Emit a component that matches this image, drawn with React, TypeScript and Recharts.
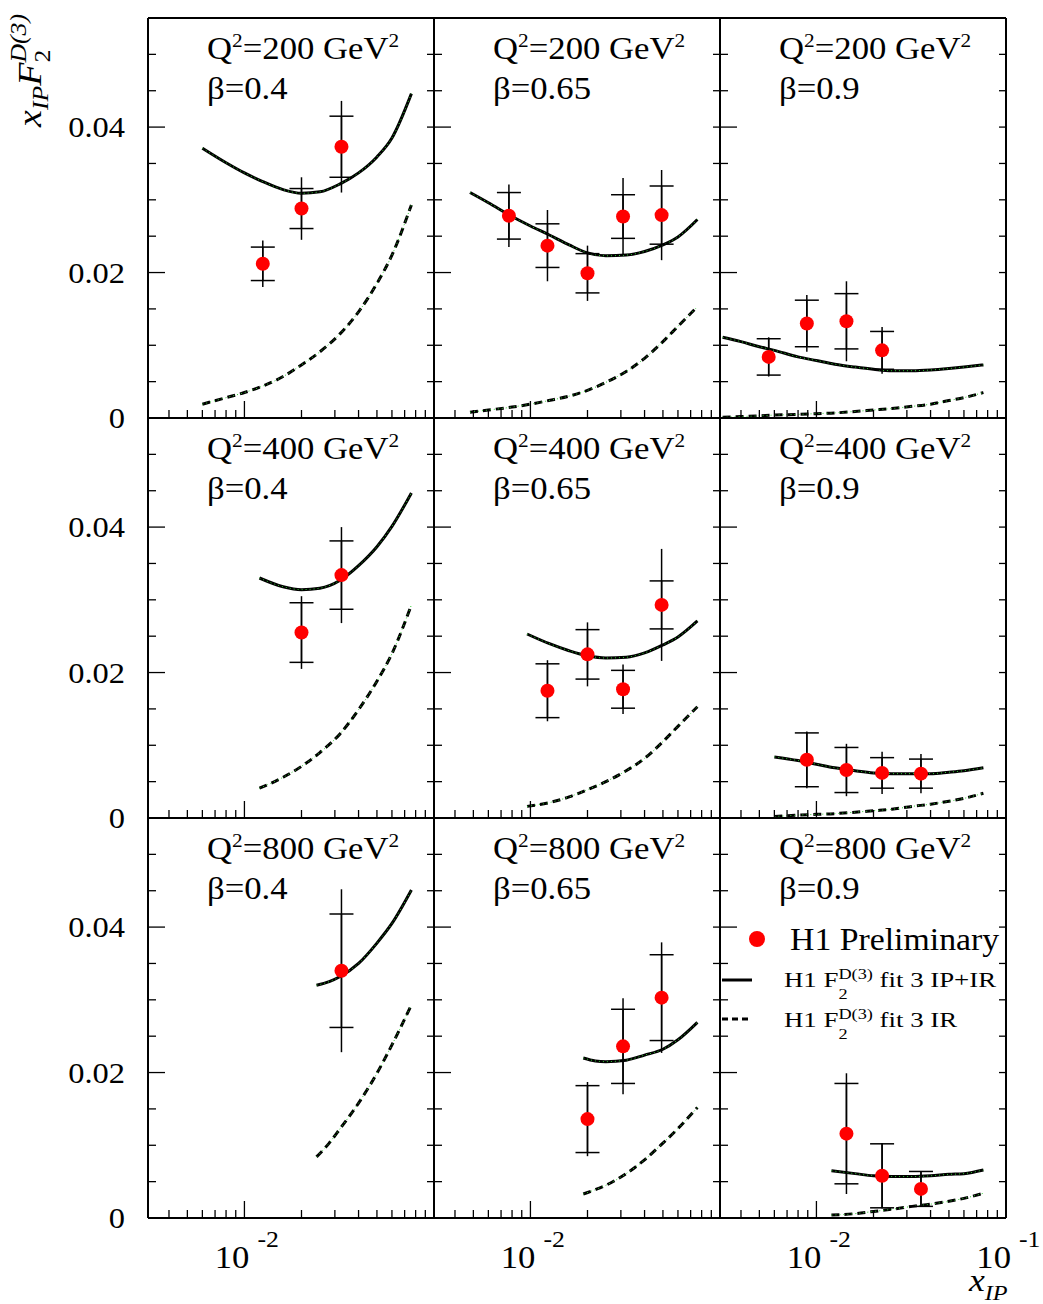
import React from "react";
import { ComposedChart, Line, Scatter, ErrorBar, XAxis, YAxis } from "recharts";

const FONT = '"Liberation Serif", "Times New Roman", serif';
const SX = 1.12; // glyphs in the original are a little wider than Times

const PANEL_W = 286;
const PANEL_H = 400;
const LEFT0 = 148;
const TOP0 = 18;
const ML = 140;
const MR = 50;
const MT = 10;
const MB = 90;
const AX = 1; // thickness given to each axis band

const X_DOMAIN = [0.0031, 0.1];
const Y_DOMAIN = [0, 0.055];
const X_TICKS = [0.004, 0.005, 0.006, 0.007, 0.008, 0.009, 0.01, 0.02, 0.03, 0.04, 0.05, 0.06, 0.07, 0.08, 0.09, 0.1];
const Y_TICKS = [0, 0.005, 0.01, 0.015, 0.02, 0.025, 0.03, 0.035, 0.04, 0.045, 0.05];

const Q2_VALUES = ["200", "400", "800"];
const BETA_VALUES = ["0.4", "0.65", "0.9"];

// Q2=200, beta=0.4
const q200b04X = [0.0125, 0.02, 0.0325];
const q200b04Y = [0.0212, 0.0288, 0.0373];
const q200b04Stat = [0.0023, 0.00275, 0.0042];
const q200b04Tot = [0.0032, 0.0043, 0.0063];
const q200b04FitX = [0.006, 0.008, 0.01, 0.0125, 0.016, 0.02, 0.025, 0.032, 0.04, 0.05, 0.06, 0.076];
const q200b04Fit = [0.0371, 0.0351, 0.0337, 0.0325, 0.0314, 0.0309, 0.0311, 0.0322, 0.0337, 0.0359, 0.0385, 0.0446];
const q200b04IR = [0.0019, 0.0028, 0.0035, 0.0044, 0.0057, 0.0073, 0.0091, 0.0116, 0.0146, 0.0185, 0.0224, 0.0293];

// Q2=200, beta=0.65
const q200b065X = [0.0077, 0.0123, 0.02, 0.0308, 0.0492];
const q200b065Y = [0.0278, 0.0237, 0.0199, 0.0277, 0.0279];
const q200b065Stat = [0.0032, 0.003, 0.0027, 0.003, 0.004];
const q200b065Tot = [0.0043, 0.0049, 0.0038, 0.0053, 0.0062];
const q200b065FitX = [0.0048, 0.006, 0.008, 0.01, 0.0125, 0.016, 0.02, 0.025, 0.032, 0.04, 0.05, 0.06, 0.076];
const q200b065Fit = [0.031, 0.0296, 0.0277, 0.0264, 0.0252, 0.0238, 0.0227, 0.0223, 0.0224, 0.0229, 0.0238, 0.0249, 0.0273];
const q200b065IR = [0.0008, 0.0011, 0.0015, 0.0019, 0.0024, 0.003, 0.0038, 0.0049, 0.0064, 0.0082, 0.0105, 0.0126, 0.0153];

// Q2=200, beta=0.9
const q200b09X = [0.0056, 0.0089, 0.0144, 0.0222];
const q200b09Y = [0.0084, 0.013, 0.0133, 0.0093];
const q200b09Stat = [0.0025, 0.0032, 0.0038, 0.0026];
const q200b09Tot = [0.0027, 0.0039, 0.0055, 0.0032];
const q200b09FitX = [0.0032, 0.004, 0.005, 0.006, 0.008, 0.01, 0.0125, 0.016, 0.02, 0.025, 0.032, 0.04, 0.05, 0.06, 0.076];
const q200b09Fit = [0.0111, 0.0105, 0.0098, 0.0093, 0.0084, 0.0079, 0.0074, 0.007, 0.0067, 0.0065, 0.0065, 0.0066, 0.0068, 0.007, 0.0073];
const q200b09IR = [0.0001, 0.0002, 0.0003, 0.0004, 0.0005, 0.0006, 0.0007, 0.0009, 0.0011, 0.0013, 0.0016, 0.0019, 0.0024, 0.0028, 0.0035];

// Q2=400, beta=0.4
const q400b04X = [0.02, 0.0325];
const q400b04Y = [0.0255, 0.0334];
const q400b04Stat = [0.0041, 0.0047];
const q400b04Tot = [0.005, 0.0066];
const q400b04FitX = [0.012, 0.016, 0.02, 0.025, 0.032, 0.04, 0.05, 0.06, 0.076];
const q400b04Fit = [0.033, 0.0318, 0.0314, 0.0316, 0.0327, 0.0347, 0.0373, 0.0401, 0.0447];
const q400b04IR = [0.0041, 0.0056, 0.0071, 0.009, 0.0116, 0.0149, 0.0188, 0.0226, 0.0293];

// Q2=400, beta=0.65
const q400b065X = [0.0123, 0.02, 0.0308, 0.0492];
const q400b065Y = [0.0175, 0.0225, 0.0177, 0.0293];
const q400b065Stat = [0.0037, 0.0034, 0.0026, 0.0033];
const q400b065Tot = [0.0042, 0.0044, 0.0034, 0.0077];
const q400b065FitX = [0.0096, 0.0125, 0.016, 0.02, 0.025, 0.032, 0.04, 0.05, 0.06, 0.076];
const q400b065Fit = [0.0253, 0.024, 0.023, 0.0223, 0.022, 0.0221, 0.0227, 0.0238, 0.0249, 0.0271];
const q400b065IR = [0.0016, 0.0021, 0.0029, 0.0039, 0.005, 0.0065, 0.0082, 0.0105, 0.0126, 0.0153];

// Q2=400, beta=0.9
const q400b09X = [0.0089, 0.0144, 0.0222, 0.0356];
const q400b09Y = [0.008, 0.0066, 0.0062, 0.0061];
const q400b09Stat = [0.0037, 0.0031, 0.0021, 0.002];
const q400b09Tot = [0.0039, 0.0036, 0.0029, 0.0027];
const q400b09FitX = [0.006, 0.008, 0.01, 0.0125, 0.016, 0.02, 0.025, 0.032, 0.04, 0.05, 0.06, 0.076];
const q400b09Fit = [0.0084, 0.0079, 0.0074, 0.0069, 0.0065, 0.0062, 0.0061, 0.0061, 0.0061, 0.0063, 0.0065, 0.0069];
const q400b09IR = [0.0002, 0.0004, 0.0005, 0.0006, 0.0008, 0.001, 0.0012, 0.0016, 0.0019, 0.0023, 0.0027, 0.0034];

// Q2=800, beta=0.4
const q800b04X = [0.0325];
const q800b04Y = [0.034];
const q800b04Stat = [0.0078];
const q800b04Tot = [0.0112];
const q800b04FitX = [0.024, 0.028, 0.032, 0.04, 0.05, 0.06, 0.076];
const q800b04Fit = [0.032, 0.0325, 0.0332, 0.035, 0.0378, 0.0405, 0.0451];
const q800b04IR = [0.0084, 0.0103, 0.0123, 0.0158, 0.0199, 0.0238, 0.0293];

// Q2=800, beta=0.65
const q800b065X = [0.02, 0.0308, 0.0492];
const q800b065Y = [0.0136, 0.0236, 0.0303];
const q800b065Stat = [0.0046, 0.0051, 0.0059];
const q800b065Tot = [0.0051, 0.0066, 0.0076];
const q800b065FitX = [0.019, 0.022, 0.025, 0.032, 0.04, 0.05, 0.06, 0.076];
const q800b065Fit = [0.022, 0.0216, 0.0215, 0.0217, 0.0224, 0.0232, 0.0245, 0.0269];
const q800b065IR = [0.0033, 0.0039, 0.0045, 0.0061, 0.008, 0.0103, 0.0123, 0.0152];

// Q2=800, beta=0.9
const q800b09X = [0.0144, 0.0222, 0.0356];
const q800b09Y = [0.0116, 0.0058, 0.004];
const q800b09Stat = [0.0069, 0.0044, 0.0024];
const q800b09Tot = [0.0083, 0.0045, 0.0024];
const q800b09FitX = [0.012, 0.016, 0.02, 0.025, 0.032, 0.04, 0.05, 0.06, 0.076];
const q800b09Fit = [0.0065, 0.0061, 0.0058, 0.0057, 0.0057, 0.0058, 0.006, 0.0061, 0.0066];
const q800b09IR = [0.0004, 0.0006, 0.0009, 0.0012, 0.0016, 0.0019, 0.0023, 0.0027, 0.0034];

const toPoints = (xs: number[], ys: number[], stat: number[], tot: number[]) =>
  xs.map((x, i) => ({ x, y: ys[i], stat: stat[i], tot: tot[i] }));
const toCurve = (xs: number[], ys: number[]) => xs.map((x, i) => ({ x, y: ys[i] }));

const PANELS = [
  { row: 0, col: 0, points: toPoints(q200b04X, q200b04Y, q200b04Stat, q200b04Tot), fit: toCurve(q200b04FitX, q200b04Fit), ir: toCurve(q200b04FitX, q200b04IR) },
  { row: 0, col: 1, points: toPoints(q200b065X, q200b065Y, q200b065Stat, q200b065Tot), fit: toCurve(q200b065FitX, q200b065Fit), ir: toCurve(q200b065FitX, q200b065IR) },
  { row: 0, col: 2, points: toPoints(q200b09X, q200b09Y, q200b09Stat, q200b09Tot), fit: toCurve(q200b09FitX, q200b09Fit), ir: toCurve(q200b09FitX, q200b09IR) },
  { row: 1, col: 0, points: toPoints(q400b04X, q400b04Y, q400b04Stat, q400b04Tot), fit: toCurve(q400b04FitX, q400b04Fit), ir: toCurve(q400b04FitX, q400b04IR) },
  { row: 1, col: 1, points: toPoints(q400b065X, q400b065Y, q400b065Stat, q400b065Tot), fit: toCurve(q400b065FitX, q400b065Fit), ir: toCurve(q400b065FitX, q400b065IR) },
  { row: 1, col: 2, points: toPoints(q400b09X, q400b09Y, q400b09Stat, q400b09Tot), fit: toCurve(q400b09FitX, q400b09Fit), ir: toCurve(q400b09FitX, q400b09IR) },
  { row: 2, col: 0, points: toPoints(q800b04X, q800b04Y, q800b04Stat, q800b04Tot), fit: toCurve(q800b04FitX, q800b04Fit), ir: toCurve(q800b04FitX, q800b04IR) },
  { row: 2, col: 1, points: toPoints(q800b065X, q800b065Y, q800b065Stat, q800b065Tot), fit: toCurve(q800b065FitX, q800b065Fit), ir: toCurve(q800b065FitX, q800b065IR) },
  { row: 2, col: 2, points: toPoints(q800b09X, q800b09Y, q800b09Stat, q800b09Tot), fit: toCurve(q800b09FitX, q800b09Fit), ir: toCurve(q800b09FitX, q800b09IR) },
];

const frame = { stroke: "#000", strokeWidth: 2 };

const isMajorY = (v: number) => Math.abs(v / 0.02 - Math.round(v / 0.02)) < 1e-6;

const makeYTick = (col: number) => (props: any) => {
  const { x, y, payload } = props;
  const v = payload.value;
  const major = isMajorY(v);
  return (
    <g>
      <line x1={x} x2={x + (major ? 17 : 8)} y1={y} y2={y} stroke="#000" strokeWidth={1.3} />
      {col === 0 && major && (
        <text
          transform={`translate(${x - 23},${y + 10}) scale(${SX},1)`}
          textAnchor="end"
          fontSize={29}
          fontFamily={FONT}
          fill="#000"
        >
          {v === 0 ? "0" : v.toFixed(2)}
        </text>
      )}
    </g>
  );
};

const rightTick = (props: any) => {
  const { x, y } = props;
  return <line x1={x} x2={x - 7} y1={y} y2={y} stroke="#000" strokeWidth={1.3} />;
};

const makeXTick = (row: number, col: number) => (props: any) => {
  const { x, y, payload } = props;
  const v = payload.value;
  const major = v === 0.01 || v === 0.1;
  const showLabel = row === 2 && (v === 0.01 || (v === 0.1 && col === 2));
  return (
    <g>
      <line x1={x} x2={x} y1={y} y2={y - (major ? 17 : 8)} stroke="#000" strokeWidth={1.3} />
      {showLabel && (
        <g fontFamily={FONT} fill="#000">
          <text transform={`translate(${x + 5},${y + 50}) scale(${SX},1)`} textAnchor="end" fontSize={31}>
            10
          </text>
          <text transform={`translate(${x + 13},${y + 29}) scale(${SX},1)`} textAnchor="start" fontSize={23}>
            {v === 0.01 ? "-2" : "-1"}
          </text>
        </g>
      )}
    </g>
  );
};

const redDot = (props: any) => <circle cx={props.cx} cy={props.cy} r={7} fill="#ff0000" />;

const Panel = ({ p }: { p: (typeof PANELS)[number] }) => {
  const left = LEFT0 + p.col * PANEL_W - ML;
  const top = TOP0 + p.row * PANEL_H - MT;
  return (
    <div style={{ position: "absolute", left, top }}>
      <ComposedChart
        width={ML + PANEL_W + MR}
        height={MT + PANEL_H + MB}
        margin={{ top: MT - AX, right: MR - AX, bottom: MB - AX, left: ML - AX }}
      >
        <XAxis
          dataKey="x"
          type="number"
          scale="log"
          domain={X_DOMAIN}
          allowDataOverflow
          ticks={X_TICKS}
          interval={0}
          height={AX}
          tickSize={0}
          tickMargin={0}
          tickLine={false}
          axisLine={frame}
          tick={makeXTick(p.row, p.col)}
        />
        <XAxis
          xAxisId="top"
          orientation="top"
          dataKey="x"
          type="number"
          scale="log"
          domain={X_DOMAIN}
          allowDataOverflow
          ticks={[0.01]}
          height={AX}
          tick={false}
          tickLine={false}
          axisLine={frame}
        />
        <YAxis
          dataKey="y"
          type="number"
          domain={Y_DOMAIN}
          allowDataOverflow
          ticks={Y_TICKS}
          interval={0}
          width={AX}
          tickSize={0}
          tickMargin={0}
          tickLine={false}
          axisLine={frame}
          tick={makeYTick(p.col)}
        />
        <YAxis
          yAxisId="right"
          orientation="right"
          dataKey="y"
          type="number"
          domain={Y_DOMAIN}
          allowDataOverflow
          ticks={Y_TICKS}
          interval={0}
          width={AX}
          tickSize={0}
          tickMargin={0}
          tickLine={false}
          axisLine={frame}
          tick={rightTick}
        />
        <Line data={p.ir} dataKey="y" type="monotone" stroke="#000" strokeWidth={3} strokeDasharray="8 5" dot={false} isAnimationActive={false} />
        <Line data={p.ir} dataKey="y" type="monotone" stroke="#33cc33" strokeWidth={1} strokeDasharray="1 3" dot={false} isAnimationActive={false} />
        <Line data={p.fit} dataKey="y" type="monotone" stroke="#000" strokeWidth={3} dot={false} isAnimationActive={false} />
        <Line data={p.fit} dataKey="y" type="monotone" stroke="#33cc33" strokeWidth={1} strokeDasharray="1 3" dot={false} isAnimationActive={false} />
        <Scatter data={p.points} dataKey="y" shape={redDot} isAnimationActive={false}>
          <ErrorBar dataKey="tot" direction="y" width={0} stroke="#000" strokeWidth={1.5} />
          <ErrorBar dataKey="stat" direction="y" width={12} stroke="#000" strokeWidth={1.5} />
        </Scatter>
      </ComposedChart>
    </div>
  );
};

const Txt = ({ x, y, size, anchor = "start", italic = false, rotate = 0, sx = SX, children }: any) => (
  <text
    transform={`translate(${x},${y})${rotate ? ` rotate(${rotate})` : ""} scale(${sx},1)`}
    fontSize={size}
    textAnchor={anchor}
    fontStyle={italic ? "italic" : "normal"}
    fontFamily={FONT}
    fill="#000"
  >
    {children}
  </text>
);

const FitLegendText = ({ y, tail }: { y: number; tail: string }) => (
  <Txt x={784} y={y} size={22} sx={1.22}>
    H1 F
    <tspan dy={12} fontSize={15}>2</tspan>
    <tspan dx={-7.5} dy={-20.5} fontSize={15}>D(3)</tspan>
    <tspan dy={8.5} fontSize={22}>{tail}</tspan>
  </Txt>
);

export default function App() {
  return (
    <div style={{ position: "absolute", left: 0, top: 0, width: 1043, height: 1304, background: "#fff", overflow: "hidden" }}>
      {PANELS.map((p) => (
        <Panel key={`${p.row}-${p.col}`} p={p} />
      ))}
      <svg width={1043} height={1304} style={{ position: "absolute", left: 0, top: 0, pointerEvents: "none" }}>
        {PANELS.map((p) => {
          const lx = LEFT0 + p.col * PANEL_W + 59;
          const ty = TOP0 + p.row * PANEL_H;
          return (
            <g key={`lab-${p.row}-${p.col}`}>
              <Txt x={lx} y={ty + 41} size={31}>
                Q<tspan dy={-12} fontSize={19}>2</tspan>
                <tspan dy={12} fontSize={31}>{`=${Q2_VALUES[p.row]} GeV`}</tspan>
                <tspan dy={-12} fontSize={19}>2</tspan>
              </Txt>
              <Txt x={lx} y={ty + 81} size={31}>{`β=${BETA_VALUES[p.col]}`}</Txt>
            </g>
          );
        })}

        {/* legend */}
        <circle cx={757} cy={939} r={8} fill="#ff0000" />
        <Txt x={790} y={950} size={31} sx={1.09}>H1 Preliminary</Txt>
        <line x1={722} x2={752} y1={980} y2={980} stroke="#000" strokeWidth={3} />
        <FitLegendText y={987} tail={" fit 3 IP+IR"} />
        <line x1={722} x2={752} y1={1019} y2={1019} stroke="#000" strokeWidth={3} strokeDasharray="6 4" />
        <FitLegendText y={1027} tail={" fit 3 IR"} />

        {/* axis titles */}
        <Txt x={41} y={127} size={34} rotate={-90} italic sx={1.12}>
          x<tspan dy={7} fontSize={23}>IP</tspan>
          <tspan dy={-7} fontSize={34}>F</tspan>
          <tspan dy={9} fontSize={23} fontStyle="normal">2</tspan>
          <tspan dx={-11.5} dy={-24} fontSize={23}>D(3)</tspan>
        </Txt>
        <Txt x={969} y={1291} size={31} italic sx={1.15}>
          x<tspan dy={9} fontSize={21}>IP</tspan>
        </Txt>
      </svg>
    </div>
  );
}
